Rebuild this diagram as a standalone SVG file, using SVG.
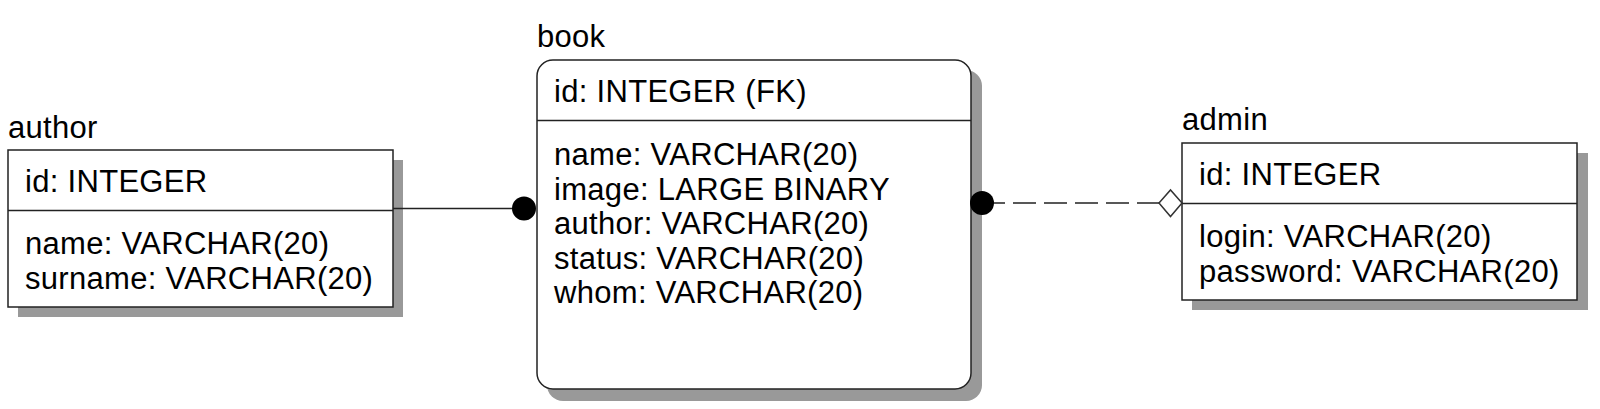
<svg xmlns="http://www.w3.org/2000/svg" width="1600" height="409" viewBox="0 0 1600 409">
<defs>
<style>
.t{font-family:"Liberation Sans",Arial,sans-serif;font-size:31px;letter-spacing:0.3px;fill:#000}
.box{fill:#fff;stroke:#222;stroke-width:1.5}
.sh{fill:#999}
.div{stroke:#222;stroke-width:1.5}
.conn{stroke:#222;stroke-width:1.5;fill:none}
</style>
</defs>
<rect width="1600" height="409" fill="#fff"/>
<g id="author">
<rect class="sh" x="18" y="160" width="385" height="157"/>
<rect class="box" x="8" y="150" width="385" height="157"/>
<line class="div" x1="8" y1="210.5" x2="393" y2="210.5"/>
<text class="t" x="8" y="138">author</text>
<text class="t" x="25" y="192">id: INTEGER</text>
<text class="t" x="25" y="254">name: VARCHAR(20)</text>
<text class="t" x="25" y="288.5">surname: VARCHAR(20)</text>
</g>
<g id="book">
<rect class="sh" x="547" y="70" width="435" height="331" rx="16"/>
<rect class="box" x="537" y="60" width="434" height="329" rx="16"/>
<line class="div" x1="537" y1="120.5" x2="971" y2="120.5"/>
<text class="t" x="537" y="47">book</text>
<text class="t" x="554" y="102">id: INTEGER (FK)</text>
<text class="t" x="554" y="165">name: VARCHAR(20)</text>
<text class="t" x="554" y="199.5">image: LARGE BINARY</text>
<text class="t" x="554" y="234">author: VARCHAR(20)</text>
<text class="t" x="554" y="268.5">status: VARCHAR(20)</text>
<text class="t" x="554" y="303">whom: VARCHAR(20)</text>
</g>
<g id="admin">
<rect class="sh" x="1192" y="153" width="396" height="157"/>
<rect class="box" x="1182" y="143" width="395" height="157"/>
<line class="div" x1="1182" y1="203.5" x2="1577" y2="203.5"/>
<text class="t" x="1182" y="130">admin</text>
<text class="t" x="1199" y="185">id: INTEGER</text>
<text class="t" x="1199" y="247">login: VARCHAR(20)</text>
<text class="t" x="1199" y="281.5">password: VARCHAR(20)</text>
</g>
<g id="connectors">
<line class="conn" x1="393" y1="208.5" x2="524" y2="208.5"/>
<circle cx="524" cy="208.5" r="12" fill="#000"/>
<line class="conn" x1="982" y1="203" x2="1159" y2="203" stroke-dasharray="23 8"/>
<circle cx="982" cy="203" r="12" fill="#000"/>
<polygon points="1159,203 1170.5,190 1182,203 1170.5,216.5" fill="#fff" stroke="#333" stroke-width="1.5"/>
</g>
</svg>
